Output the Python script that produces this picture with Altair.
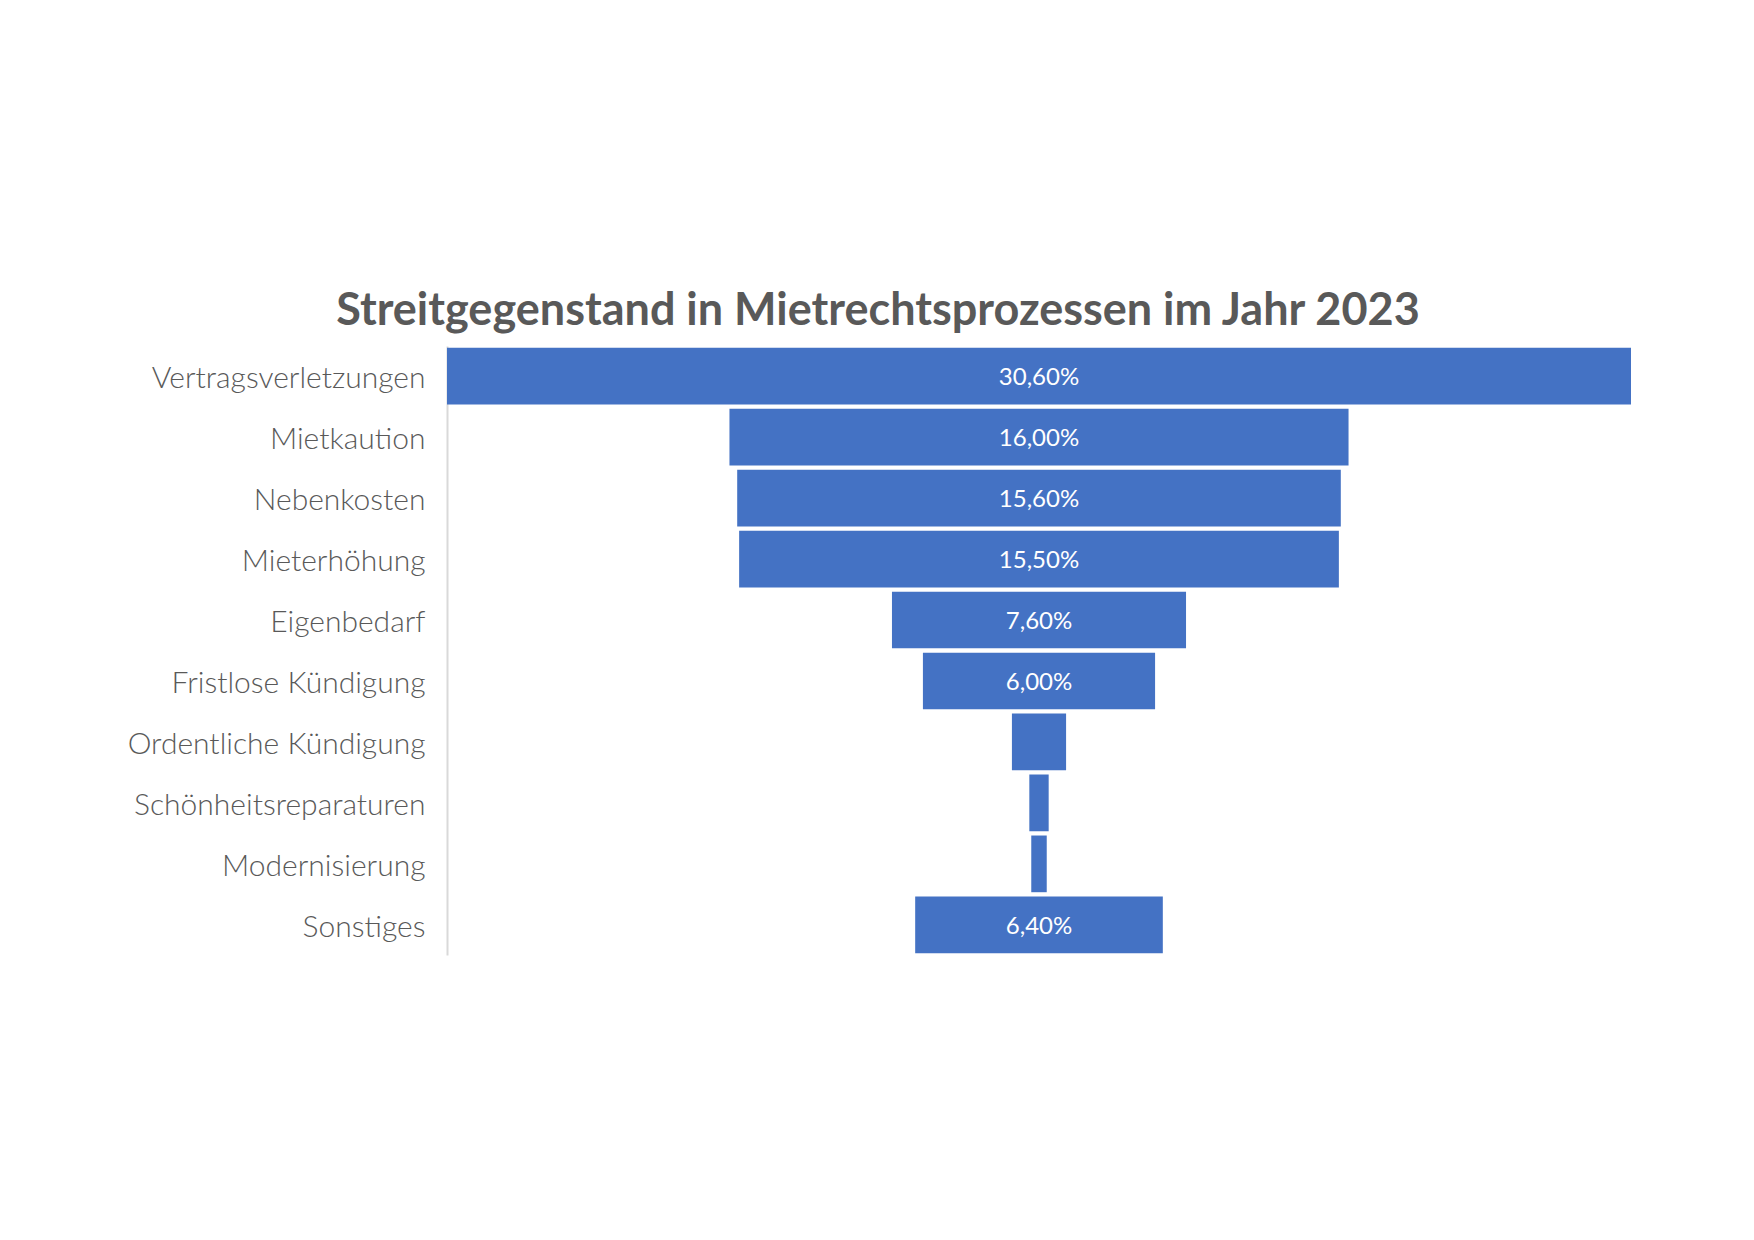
import altair as alt
import pandas as pd

categories = [
    "Vertragsverletzungen", "Mietkaution", "Nebenkosten", "Mieterhöhung",
    "Eigenbedarf", "Fristlose Kündigung", "Ordentliche Kündigung",
    "Schönheitsreparaturen", "Modernisierung", "Sonstiges",
]
values = [30.6, 16.0, 15.6, 15.5, 7.6, 6.0, 1.4, 0.5, 0.4, 6.4]
show_label = [True, True, True, True, True, True, False, False, False, True]

df = pd.DataFrame({"cat": categories, "v": values, "show": show_label})

BLUE = "#4472C4"
GRAY = "#595959"
half = max(values) / 2

base = alt.Chart(df).transform_calculate(
    x0="-datum.v / 2", x1="datum.v / 2", mid="0",
    lbl="replace(format(datum.v, '.2f'), '.', ',') + '%'",
)

y_enc = alt.Y(
    "cat:N", sort=categories, title=None,
    scale=alt.Scale(paddingInner=0.07, paddingOuter=0.03),
    axis=alt.Axis(
        domain=True, domainColor="#d9d9d9", domainWidth=2, ticks=False,
        grid=False, labelFont="Lato", labelFontSize=30, labelColor=GRAY,
        labelPadding=22, labelFontWeight=300, labelLimit=500, labelOffset=3,
    ),
)
x_scale = alt.Scale(domain=[-half, half], nice=False, zero=False)

bars = base.mark_bar(color=BLUE).encode(
    y=y_enc,
    x=alt.X("x0:Q", scale=x_scale, axis=None),
    x2="x1:Q",
)

labels = base.transform_filter("datum.show").mark_text(
    color="white", font="Lato", fontSize=24, align="center", baseline="middle", dy=2
).encode(
    y=alt.Y("cat:N", sort=categories),
    x=alt.X("mid:Q", scale=x_scale, axis=None),
    text="lbl:N",
)

chart = (bars + labels).properties(
    width=1184, height=609,
    title=alt.TitleParams(
        "Streitgegenstand in Mietrechtsprozessen im Jahr 2023",
        font="Lato", fontSize=45, fontWeight="bold", color=GRAY,
        anchor="middle", frame="group", dx=-161, offset=12,
    ),
    autosize=alt.AutoSizeParams(type="none"),
    padding={"left": 439, "top": 338, "right": 20, "bottom": 20},
).configure_view(stroke=None)

chart.save("out.html", embed_options={"renderer": "svg", "actions": False})
